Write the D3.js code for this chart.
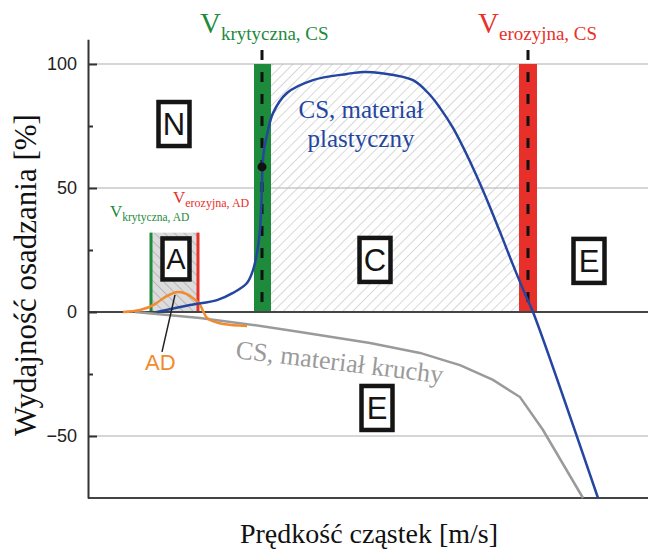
<!DOCTYPE html>
<html><head><meta charset="utf-8">
<script src="https://cdn.jsdelivr.net/npm/d3@7"></script>
<style>body{margin:0;background:#fff}svg{display:block}</style>
</head><body>
<svg id="c" width="651" height="549"></svg>
<script>
// ---------- data ----------
const yTicks = [100, 50, 0, -50];
const yMinorTicks = [75, 25, -25];
const gridValues = [100, 50, -50];

// CS, plastic material (blue)
const plasticVel = [138, 204, 258, 290, 318, 330, 338, 344, 347, 349, 352, 358, 370, 398, 450, 518, 550, 584, 650, 684, 704, 730, 770, 798, 824, 850, 878, 890, 1020];
const plasticEff = [0, 2.8, 4.8, 7.7, 11.7, 16.9, 23.8, 33.1, 45, 58.5, 65.3, 71.4, 80.2, 88.3, 93.5, 96, 96.8, 96.4, 93.5, 87.5, 82.3, 74.2, 58.1, 45.2, 32.3, 19, 5.4, 0, -75];
// CS, brittle material (gray)
const brittleVel = [94, 224, 330, 424, 564, 664, 724, 744, 810, 864, 910, 990];
const brittleEff = [0, -2.4, -5.2, -8.1, -12.5, -16.5, -20.2, -21.4, -27.4, -34.3, -47.6, -75];
// AD (orange)
const adVel = [70, 104, 134, 154, 180, 204, 224, 238, 254, 270, 318];
const adEff = [0, 0.8, 3.2, 6, 8.1, 6.5, 2.8, -2.4, -4, -4.8, -5.6];

// regions (velocity ranges)
const critCS = [332, 366], critCSmid = 348;
const eroCS = [862, 898], eroCSmid = 880;
const zoneC = [366, 862];
const zoneA = [126, 220], zoneATop = 32;
const markerPoint = [348, 58.5];

const zoneLetters = ["N", "A", "C", "E", "E"];
const zoneLetterVel = [172, 176, 574, 1002, 578];
const zoneLetterEff = [75.8, 21.4, 21, 20.6, -38.7];

// ---------- scales ----------
const svg = d3.select("#c");
const x = d3.scaleLinear().domain([0, 1120]).range([88, 648]);
const y = d3.scaleLinear().domain([-75, 110]).range([498, 39.2]);

const serif = "'Liberation Serif','Times New Roman',serif";
const sans = "'Liberation Sans',Arial,sans-serif";
const green = "#1e8a3c", red = "#e8302a", blue = "#2446a0", gray = "#9a9a9a", orange = "#f28a2e";

const defs = svg.append("defs");
const pC = defs.append("pattern").attr("id", "hC").attr("width", 7).attr("height", 7)
  .attr("patternUnits", "userSpaceOnUse").attr("patternTransform", "rotate(45)");
pC.append("line").attr("x1", 0).attr("y1", 0).attr("x2", 0).attr("y2", 7).attr("stroke", "#b8b8b8").attr("stroke-width", 1.1);
const pA = defs.append("pattern").attr("id", "hA").attr("width", 7).attr("height", 7)
  .attr("patternUnits", "userSpaceOnUse").attr("patternTransform", "rotate(-45)");
pA.append("rect").attr("width", 7).attr("height", 7).attr("fill", "#dcdcdc");
pA.append("line").attr("x1", 0).attr("y1", 0).attr("x2", 0).attr("y2", 7).attr("stroke", "#9a9a9a").attr("stroke-width", 1.1);

// ---------- grid ----------
svg.append("g").selectAll("line").data(gridValues).join("line")
  .attr("x1", x(0)).attr("x2", x(1120)).attr("y1", d => y(d)).attr("y2", d => y(d))
  .attr("stroke", "#c8c8c8").attr("stroke-width", 1.5);

// ---------- zones ----------
svg.append("rect").attr("x", x(zoneC[0])).attr("width", x(zoneC[1]) - x(zoneC[0]))
  .attr("y", y(100)).attr("height", y(0) - y(100)).attr("fill", "url(#hC)");
svg.append("rect").attr("x", x(zoneA[0])).attr("width", x(zoneA[1]) - x(zoneA[0]))
  .attr("y", y(zoneATop)).attr("height", y(0) - y(zoneATop)).attr("fill", "url(#hA)");
svg.append("line").attr("x1", x(zoneA[0])).attr("x2", x(zoneA[0])).attr("y1", y(zoneATop)).attr("y2", y(0))
  .attr("stroke", green).attr("stroke-width", 3);
svg.append("line").attr("x1", x(zoneA[1])).attr("x2", x(zoneA[1])).attr("y1", y(zoneATop)).attr("y2", y(0))
  .attr("stroke", red).attr("stroke-width", 3);

svg.append("rect").attr("x", x(critCS[0])).attr("width", x(critCS[1]) - x(critCS[0]))
  .attr("y", y(100)).attr("height", y(0) - y(100)).attr("fill", green);
svg.append("rect").attr("x", x(eroCS[0])).attr("width", x(eroCS[1]) - x(eroCS[0]))
  .attr("y", y(100)).attr("height", y(0) - y(100)).attr("fill", red);
[critCSmid, eroCSmid].forEach(v => {
  svg.append("line").attr("x1", x(v)).attr("x2", x(v)).attr("y1", y(105.6)).attr("y2", y(0))
    .attr("stroke", "#111").attr("stroke-width", 3).attr("stroke-dasharray", "10,12");
});

// ---------- axes ----------
svg.append("line").attr("x1", x(0)).attr("x2", x(1120)).attr("y1", y(0)).attr("y2", y(0))
  .attr("stroke", "#444").attr("stroke-width", 2);
svg.append("line").attr("x1", x(0)).attr("x2", x(1120)).attr("y1", y(-75)).attr("y2", y(-75))
  .attr("stroke", "#444").attr("stroke-width", 2);

const ay = svg.append("g").attr("transform", `translate(${x(0)},0)`)
  .call(d3.axisLeft(y).tickValues(yTicks).tickSize(-9).tickSizeOuter(0).tickPadding(11));
ay.select(".domain").attr("stroke", "#333").attr("stroke-width", 2);
ay.selectAll(".tick line").attr("stroke", "#333").attr("stroke-width", 2);
ay.selectAll("text").attr("font-family", sans).attr("font-size", 18).attr("fill", "#222");
const ay2 = svg.append("g").attr("transform", `translate(${x(0)},0)`)
  .call(d3.axisLeft(y).tickValues(yMinorTicks).tickSize(-5).tickSizeOuter(0).tickFormat(""));
ay2.select(".domain").remove();
ay2.selectAll(".tick line").attr("stroke", "#333").attr("stroke-width", 2);

// ---------- curves ----------
const lineM = d3.line().x(d => x(d[0])).y(d => y(d[1])).curve(d3.curveMonotoneX);
const lineC = d3.line().x(d => x(d[0])).y(d => y(d[1])).curve(d3.curveCatmullRom.alpha(0.5));
const lineL = d3.line().x(d => x(d[0])).y(d => y(d[1]));
const zip = (a, b) => a.map((v, i) => [v, b[i]]);

svg.append("path").attr("d", lineL(zip(brittleVel, brittleEff))).attr("fill", "none")
  .attr("stroke", gray).attr("stroke-width", 2.5);
svg.append("path").attr("d", lineM(zip(adVel, adEff))).attr("fill", "none")
  .attr("stroke", orange).attr("stroke-width", 2.5);
svg.append("path").attr("d", lineC(zip(plasticVel, plasticEff))).attr("fill", "none")
  .attr("stroke", blue).attr("stroke-width", 2.5);
svg.append("circle").attr("cx", x(markerPoint[0])).attr("cy", y(markerPoint[1])).attr("r", 4.5).attr("fill", "#111");

// AD leader line + label
svg.append("line").attr("x1", x(174)).attr("y1", y(6.9)).attr("x2", x(148)).attr("y2", y(-16.1))
  .attr("stroke", "#222").attr("stroke-width", 1.5);
svg.append("text").attr("x", x(114)).attr("y", y(-23.4)).attr("font-family", sans).attr("font-size", 22)
  .attr("fill", orange).text("AD");

// ---------- annotations ----------
function vLabel(vx, vy, sub, color, big, small, shift) {
  const t = svg.append("text").attr("x", x(vx)).attr("y", y(vy)).attr("font-family", serif).attr("fill", color);
  t.append("tspan").attr("font-size", big).text("V");
  t.append("tspan").attr("font-size", small).attr("dy", shift).text(sub);
}
vLabel(224, 112.5, "krytyczna, CS", green, 29, 19, 7);
vLabel(780, 112.5, "erozyjna, CS", red, 29, 19, 7);
vLabel(44, 38.3, "krytyczna, AD", green, 17, 11.5, 4);
vLabel(170, 44, "erozyjna, AD", red, 17, 12, 4);

svg.append("text").attr("x", x(546)).attr("y", y(78.2)).attr("text-anchor", "middle")
  .attr("font-family", serif).attr("font-size", 25).attr("fill", blue).text("CS, materiał");
svg.append("text").attr("x", x(546)).attr("y", y(66.5)).attr("text-anchor", "middle")
  .attr("font-family", serif).attr("font-size", 25).attr("fill", blue).text("plastyczny");

svg.append("text").attr("transform", `translate(${x(294)},${y(-18.5)}) rotate(7)`)
  .attr("font-family", serif).attr("font-size", 26).attr("fill", gray).text("CS, materiał kruchy");

// boxed zone letters
zoneLetters.forEach((L, i) => {
  const cx = x(zoneLetterVel[i]), cy = y(zoneLetterEff[i]);
  const w = L === "A" ? 27 : 31, h = L === "A" ? 41 : 44;
  svg.append("rect").attr("x", cx - w / 2).attr("y", cy - h / 2).attr("width", w).attr("height", h)
    .attr("fill", "#fff").attr("stroke", "#151515").attr("stroke-width", 4.5);
  svg.append("text").attr("x", cx).attr("y", cy).attr("dy", "0.36em").attr("text-anchor", "middle")
    .attr("font-family", sans).attr("font-size", L === "A" ? 29 : 31).attr("fill", "#151515").text(L);
});

// axis titles
svg.append("text").attr("x", 369).attr("y", 543).attr("text-anchor", "middle")
  .attr("font-family", serif).attr("font-size", 28).attr("fill", "#111").text("Prędkość cząstek [m/s]");
svg.append("text").attr("transform", "translate(36,275) rotate(-90)").attr("text-anchor", "middle")
  .attr("font-family", serif).attr("font-size", 31).attr("fill", "#111").text("Wydajność osadzania [%]");
</script>
</body></html>
